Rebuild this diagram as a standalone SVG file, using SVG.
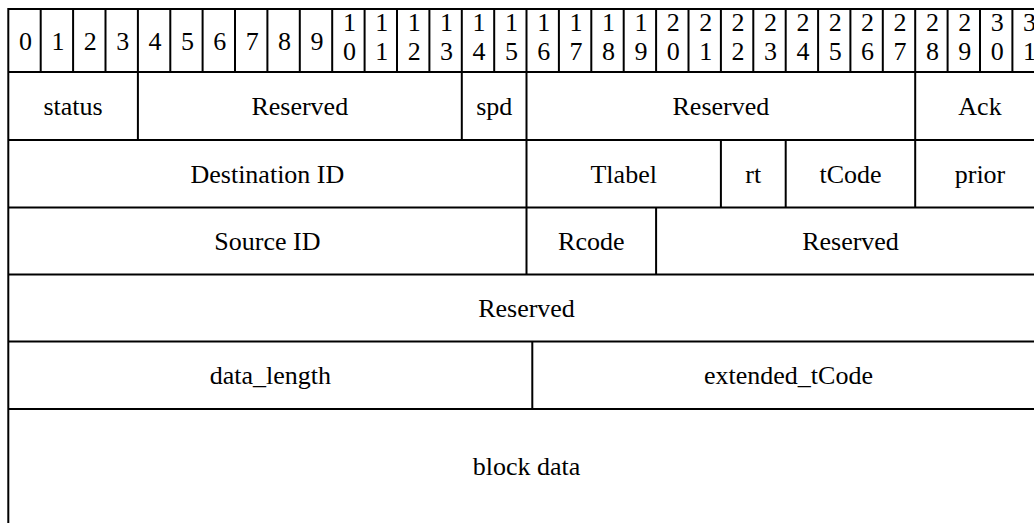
<svg xmlns="http://www.w3.org/2000/svg" width="1034" height="523" viewBox="0 0 1034 523">
<style>
  .bg { fill: #ffffff; }
  .grid { stroke: #000000; stroke-width: 2; fill: none; }
  .t { font-family: "Liberation Serif", "Times New Roman", serif; font-size: 26px; fill: #000000; text-anchor: middle; }
</style>
<rect class="bg" x="0" y="0" width="1034" height="523"/>
<g id="connectors">
  <path class="grid" d="M7.3 9H1046 M7.3 72H1046 M7.3 140H1046 M7.3 207.5H1046 M7.3 274.5H1046 M7.3 341.5H1046 M7.3 409H1046 M8.3 8V524"/>
  <path class="grid" d="M40.7 9V72 M73.1 9V72 M105.5 9V72 M137.9 9V72 M170.3 9V72 M202.6 9V72 M235 9V72 M267.4 9V72 M299.8 9V72 M332.2 9V72 M364.6 9V72 M397 9V72 M429.4 9V72 M461.8 9V72 M494.2 9V72 M526.5 9V72 M558.9 9V72 M591.3 9V72 M623.7 9V72 M656.1 9V72 M688.5 9V72 M720.9 9V72 M753.3 9V72 M785.7 9V72 M818.1 9V72 M850.4 9V72 M882.8 9V72 M915.2 9V72 M947.6 9V72 M980 9V72 M1012.4 9V72"/>
  <path class="grid" d="M137.9 72V140 M461.8 72V140 M526.5 72V274.5 M915.2 72V207.5 M720.9 140V207.5 M785.7 140V207.5 M656.1 207.5V274.5 M532.3 341.5V409"/>
</g>
<g id="header">
  <text class="t" x="25.5" y="49.5">0</text>
  <text class="t" x="57.9" y="49.5">1</text>
  <text class="t" x="90.3" y="49.5">2</text>
  <text class="t" x="122.7" y="49.5">3</text>
  <text class="t" x="155.1" y="49.5">4</text>
  <text class="t" x="187.5" y="49.5">5</text>
  <text class="t" x="219.8" y="49.5">6</text>
  <text class="t" x="252.2" y="49.5">7</text>
  <text class="t" x="284.6" y="49.5">8</text>
  <text class="t" x="317" y="49.5">9</text>
  <text class="t" x="349.4" y="31">1<tspan x="349.4" y="60">0</tspan></text>
  <text class="t" x="381.8" y="31">1<tspan x="381.8" y="60">1</tspan></text>
  <text class="t" x="414.2" y="31">1<tspan x="414.2" y="60">2</tspan></text>
  <text class="t" x="446.6" y="31">1<tspan x="446.6" y="60">3</tspan></text>
  <text class="t" x="479" y="31">1<tspan x="479" y="60">4</tspan></text>
  <text class="t" x="511.4" y="31">1<tspan x="511.4" y="60">5</tspan></text>
  <text class="t" x="543.7" y="31">1<tspan x="543.7" y="60">6</tspan></text>
  <text class="t" x="576.1" y="31">1<tspan x="576.1" y="60">7</tspan></text>
  <text class="t" x="608.5" y="31">1<tspan x="608.5" y="60">8</tspan></text>
  <text class="t" x="640.9" y="31">1<tspan x="640.9" y="60">9</tspan></text>
  <text class="t" x="673.3" y="31">2<tspan x="673.3" y="60">0</tspan></text>
  <text class="t" x="705.7" y="31">2<tspan x="705.7" y="60">1</tspan></text>
  <text class="t" x="738.1" y="31">2<tspan x="738.1" y="60">2</tspan></text>
  <text class="t" x="770.5" y="31">2<tspan x="770.5" y="60">3</tspan></text>
  <text class="t" x="802.9" y="31">2<tspan x="802.9" y="60">4</tspan></text>
  <text class="t" x="835.3" y="31">2<tspan x="835.3" y="60">5</tspan></text>
  <text class="t" x="867.6" y="31">2<tspan x="867.6" y="60">6</tspan></text>
  <text class="t" x="900" y="31">2<tspan x="900" y="60">7</tspan></text>
  <text class="t" x="932.4" y="31">2<tspan x="932.4" y="60">8</tspan></text>
  <text class="t" x="964.8" y="31">2<tspan x="964.8" y="60">9</tspan></text>
  <text class="t" x="997.2" y="31">3<tspan x="997.2" y="60">0</tspan></text>
  <text class="t" x="1029.6" y="31">3<tspan x="1029.6" y="60">1</tspan></text>
</g>
<g id="status"><text class="t" x="73.1" y="115">status</text></g>
<g id="reserved-1"><text class="t" x="299.8" y="115">Reserved</text></g>
<g id="spd"><text class="t" x="494.2" y="115">spd</text></g>
<g id="reserved-2"><text class="t" x="720.9" y="115">Reserved</text></g>
<g id="ack"><text class="t" x="980" y="115">Ack</text></g>
<g id="destination-id"><text class="t" x="267.4" y="182.7">Destination ID</text></g>
<g id="tlabel"><text class="t" x="623.7" y="182.7">Tlabel</text></g>
<g id="rt"><text class="t" x="753.3" y="182.7">rt</text></g>
<g id="tcode"><text class="t" x="850.5" y="182.7">tCode</text></g>
<g id="prior"><text class="t" x="980" y="182.7">prior</text></g>
<g id="source-id"><text class="t" x="267.4" y="250">Source ID</text></g>
<g id="rcode"><text class="t" x="591.3" y="250">Rcode</text></g>
<g id="reserved-3"><text class="t" x="850.5" y="250">Reserved</text></g>
<g id="reserved-4"><text class="t" x="526.5" y="317">Reserved</text></g>
<g id="data-length"><text class="t" x="270.3" y="384.2">data_length</text></g>
<g id="extended-tcode"><text class="t" x="788.5" y="384.2">extended_tCode</text></g>
<g id="block-data"><text class="t" x="526.5" y="475">block data</text></g>
</svg>
